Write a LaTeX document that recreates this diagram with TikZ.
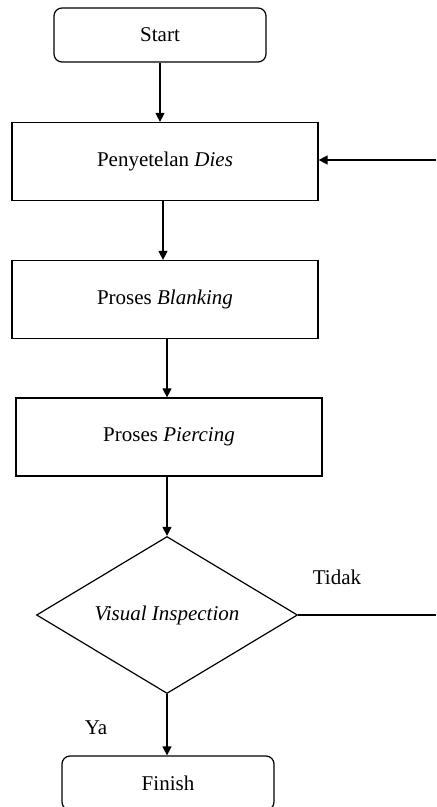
\documentclass[tikz,border=0pt]{standalone}
\usepackage{fontspec}
\setmainfont{Liberation Serif}
\usetikzlibrary{arrows.meta,shapes.geometric}
\begin{document}
\begin{tikzpicture}[x=.5pt,y=-.5pt,line width=.6pt,font=\fontsize{10.5}{12}\selectfont,
  term/.style={draw,rounded corners=4pt,minimum width=106pt,minimum height=27pt},
  proc/.style={draw,minimum width=153pt,minimum height=39pt},
  cek/.style={draw,diamond,aspect=1.66,inner sep=0pt,minimum width=130.5pt,minimum height=78.5pt},
  arr/.style={-{Triangle[length=4.5pt,width=4.5pt]}}]
\useasboundingbox(0,0)rectangle(436,807);\clip(0,0)rectangle(436,807);
\node[term](start)at(160,35){Start};
\node[proc](dies)at(165,161.5){Penyetelan \textit{Dies}};
\node[proc](blank)at(165,299.5){Proses \textit{Blanking}};
\node[proc](pierce)at(169,437){Proses \textit{Piercing}};
\node[cek](visual)at(167,615){\textit{Visual Inspection}};
\node[term](finish)at(168,783){Finish};
\coordinate(back)at(436,160);\coordinate(out)at(436,615);
\draw[arr](start.south)--(start.south|-dies.north);
\draw[arr](163,0|-dies.south)--(163,0|-blank.north);
\draw[arr](167,0|-blank.south)--(167,0|-pierce.north);
\draw[arr](visual.north|-pierce.south)--(visual.north);
\draw[arr](visual.south)--(visual.south|-finish.north);
\draw[arr](back)--(dies.east|-back);\draw(visual.east)--(out);
\node(tidak)at(337,577){Tidak};\node(ya)at(96,728){Ya};
\end{tikzpicture}
\end{document}
